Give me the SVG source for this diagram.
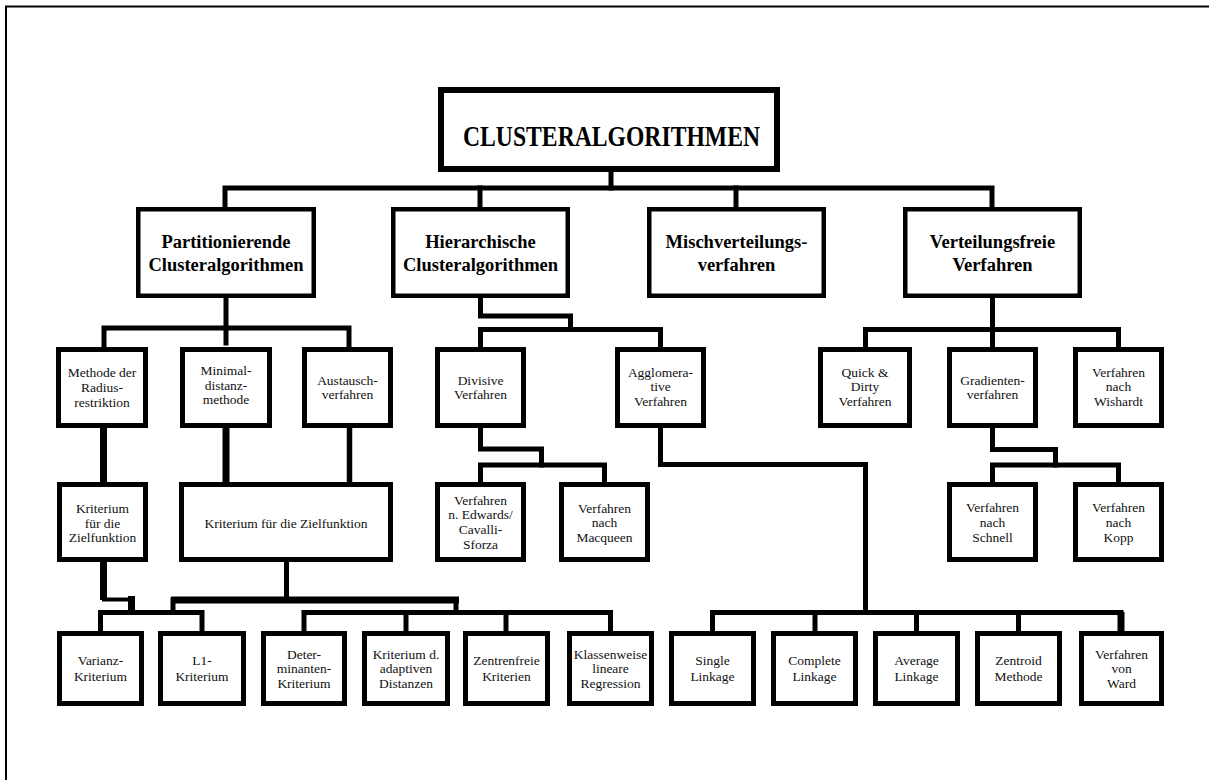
<svg xmlns="http://www.w3.org/2000/svg" width="1209" height="780" viewBox="0 0 1209 780">
<style>
.bg{fill:#fff}
.frame{fill:none;stroke:#000;stroke-width:2}
.b0{fill:#fff;stroke:#000;stroke-width:6}
.b1{fill:#fff;stroke:#000;stroke-width:4.5}
.b2{fill:#fff;stroke:#000;stroke-width:5}
.c{fill:none;stroke:#000;stroke-width:5;stroke-linejoin:miter;stroke-linecap:square}
.cw{fill:none;stroke:#000;stroke-width:7;stroke-linejoin:miter;stroke-linecap:butt}
.t0{font-family:"Liberation Serif","Times New Roman",serif;font-weight:bold;font-size:29px;text-anchor:middle;fill:#000}
.t1{font-family:"Liberation Serif","Times New Roman",serif;font-weight:bold;font-size:18.5px;text-anchor:middle;fill:#000}
.t2{font-family:"Liberation Serif","Times New Roman",serif;font-size:13.5px;text-anchor:middle;fill:#111}
</style>
<rect class="bg" x="0" y="0" width="1209" height="780"/>
<path class="frame" d="M1209,6.5 H6 V780"/>

<g id="connectors">
  <path class="c" d="M611,172 V188"/>
  <path class="c" d="M225,207 V188 H992 V207"/>
  <path class="c" d="M480,188 V207"/>
  <path class="c" d="M736,188 V207"/>
  <path class="c" d="M226,298 V328"/>
  <path class="c" d="M104,346 V328 H349 V346"/>
  <path class="c" d="M226,328 V343"/>
  <path class="cw" d="M103.5,428 V482"/>
  <path class="cw" d="M226,428 V482"/>
  <path class="c" d="M349.5,428 V480" style="stroke-width:5.5"/>
  <path class="cw" d="M103.5,562 V600"/>
  <path class="c" d="M104,599.5 H131" style="stroke-width:4"/>
  <path class="cw" d="M131.5,596 V612"/>
  <path class="c" d="M100.5,630 V612.5 H202 V630"/>
  <path class="c" d="M286.5,562 V600"/>
  <path class="cw" d="M171,600 H459"/>
  <path class="c" d="M173,600 V612"/>
  <path class="c" d="M456,600 V612"/>
  <path class="c" d="M304,630 V612.5 H610.5 V630"/>
  <path class="c" d="M406,612.5 V630"/>
  <path class="c" d="M506,612.5 V630"/>
  <path class="c" d="M480.5,298 V316 H570.5 V329"/>
  <path class="c" d="M480.5,346 V329.5 H660.5 V346"/>
  <path class="c" d="M480.5,427 V449 H541.5 V465"/>
  <path class="c" d="M480.5,481 V465 H604.5 V481"/>
  <path class="c" d="M660.5,427 V464.5 H865.5 V612.5"/>
  <path class="c" d="M712.5,630 V612.5 H1121 V620"/>
  <path class="cw" d="M1121,612 V631"/>
  <path class="c" d="M815,612.5 V630"/>
  <path class="c" d="M916.5,612.5 V630"/>
  <path class="c" d="M1018.5,612.5 V630"/>
  <path class="c" d="M992.5,298 V329"/>
  <path class="c" d="M865.5,346 V329.5 H1118.5 V346"/>
  <path class="c" d="M992.5,329 V346"/>
  <path class="c" d="M992.5,427 V449.5 H1055.5 V465"/>
  <path class="c" d="M992.5,481 V465 H1118.5 V481"/>
</g>

<g id="n-root"><rect class="b0" x="441" y="90" width="336" height="79"/><text class="t0" x="611.5" y="146" textLength="297" lengthAdjust="spacingAndGlyphs">CLUSTERALGORITHMEN</text></g>

<g id="n-part"><rect class="b1" x="138.25" y="209.25" width="175.5" height="86.5"/><text class="t1" x="226" y="248">Partitionierende</text><text class="t1" x="226" y="271">Clusteralgorithmen</text></g>
<g id="n-hier"><rect class="b1" x="393.25" y="209.25" width="174.5" height="86.5"/><text class="t1" x="480.5" y="248">Hierarchische</text><text class="t1" x="480.5" y="271">Clusteralgorithmen</text></g>
<g id="n-misch"><rect class="b1" x="649.25" y="209.25" width="174.5" height="86.5"/><text class="t1" x="736.5" y="248">Mischverteilungs-</text><text class="t1" x="736.5" y="271">verfahren</text></g>
<g id="n-vfrei"><rect class="b1" x="905.25" y="209.25" width="174.5" height="86.5"/><text class="t1" x="992.5" y="248">Verteilungsfreie</text><text class="t1" x="992.5" y="271">Verfahren</text></g>

<g id="n-radius"><rect class="b2" x="58.5" y="349.5" width="87" height="76"/><text class="t2" x="102" y="377">Methode der</text><text class="t2" x="102" y="392">Radius-</text><text class="t2" x="102" y="407">restriktion</text></g>
<g id="n-minimal"><rect class="b2" x="182.5" y="349.5" width="87" height="76"/><text class="t2" x="226" y="375">Minimal-</text><text class="t2" x="226" y="389.5">distanz-</text><text class="t2" x="226" y="404">methode</text></g>
<g id="n-austausch"><rect class="b2" x="304.5" y="349.5" width="86" height="76"/><text class="t2" x="347.5" y="385">Austausch-</text><text class="t2" x="347.5" y="399">verfahren</text></g>
<g id="n-divisiv"><rect class="b2" x="437.5" y="349.5" width="86" height="76"/><text class="t2" x="480.5" y="385">Divisive</text><text class="t2" x="480.5" y="399">Verfahren</text></g>
<g id="n-agglo"><rect class="b2" x="617.5" y="349.5" width="86" height="76"/><text class="t2" x="660.5" y="377">Agglomera-</text><text class="t2" x="660.5" y="391">tive</text><text class="t2" x="660.5" y="406">Verfahren</text></g>
<g id="n-quick"><rect class="b2" x="820.5" y="349.5" width="89" height="76"/><text class="t2" x="865" y="377">Quick &amp;</text><text class="t2" x="865" y="391">Dirty</text><text class="t2" x="865" y="406">Verfahren</text></g>
<g id="n-gradient"><rect class="b2" x="949.5" y="349.5" width="86" height="76"/><text class="t2" x="992.5" y="385">Gradienten-</text><text class="t2" x="992.5" y="399">verfahren</text></g>
<g id="n-wishardt"><rect class="b2" x="1075.5" y="349.5" width="86" height="76"/><text class="t2" x="1118.5" y="377">Verfahren</text><text class="t2" x="1118.5" y="391">nach</text><text class="t2" x="1118.5" y="406">Wishardt</text></g>

<g id="n-krit1"><rect class="b2" x="59.5" y="484.5" width="86" height="75"/><text class="t2" x="102.5" y="513">Kriterium</text><text class="t2" x="102.5" y="528">für die</text><text class="t2" x="102.5" y="542">Zielfunktion</text></g>
<g id="n-krit2"><rect class="b2" x="181.5" y="484.5" width="209" height="75"/><text class="t2" x="286" y="528">Kriterium für die Zielfunktion</text></g>
<g id="n-edwards"><rect class="b2" x="437.5" y="484.5" width="86" height="75"/><text class="t2" x="480.5" y="505">Verfahren</text><text class="t2" x="480.5" y="519">n. Edwards/</text><text class="t2" x="480.5" y="534">Cavalli-</text><text class="t2" x="480.5" y="549">Sforza</text></g>
<g id="n-macqueen"><rect class="b2" x="561.5" y="484.5" width="86" height="75"/><text class="t2" x="604.5" y="513">Verfahren</text><text class="t2" x="604.5" y="527">nach</text><text class="t2" x="604.5" y="542">Macqueen</text></g>
<g id="n-schnell"><rect class="b2" x="949.5" y="484.5" width="86" height="75"/><text class="t2" x="992.5" y="512">Verfahren</text><text class="t2" x="992.5" y="527">nach</text><text class="t2" x="992.5" y="542">Schnell</text></g>
<g id="n-kopp"><rect class="b2" x="1075.5" y="484.5" width="86" height="75"/><text class="t2" x="1118.5" y="512">Verfahren</text><text class="t2" x="1118.5" y="527">nach</text><text class="t2" x="1118.5" y="542">Kopp</text></g>

<g id="n-varianz"><rect class="b2" x="59.5" y="633.5" width="82" height="70"/><text class="t2" x="100.5" y="665">Varianz-</text><text class="t2" x="100.5" y="681">Kriterium</text></g>
<g id="n-l1"><rect class="b2" x="160.5" y="633.5" width="83" height="70"/><text class="t2" x="202" y="665">L1-</text><text class="t2" x="202" y="681">Kriterium</text></g>
<g id="n-deter"><rect class="b2" x="263.5" y="633.5" width="81" height="70"/><text class="t2" x="304" y="659">Deter-</text><text class="t2" x="304" y="673">minanten-</text><text class="t2" x="304" y="688">Kriterium</text></g>
<g id="n-adaptiv"><rect class="b2" x="364.5" y="633.5" width="83" height="70"/><text class="t2" x="406" y="659">Kriterium d.</text><text class="t2" x="406" y="673">adaptiven</text><text class="t2" x="406" y="688">Distanzen</text></g>
<g id="n-zentrenfrei"><rect class="b2" x="465.5" y="633.5" width="82" height="70"/><text class="t2" x="506.5" y="665">Zentrenfreie</text><text class="t2" x="506.5" y="681">Kriterien</text></g>
<g id="n-regression"><rect class="b2" x="569.5" y="633.5" width="82" height="70"/><text class="t2" x="610.5" y="659">Klassenweise</text><text class="t2" x="610.5" y="673">lineare</text><text class="t2" x="610.5" y="688">Regression</text></g>
<g id="n-single"><rect class="b2" x="671.5" y="633.5" width="82" height="70"/><text class="t2" x="712.5" y="665">Single</text><text class="t2" x="712.5" y="681">Linkage</text></g>
<g id="n-complete"><rect class="b2" x="773.5" y="633.5" width="82" height="70"/><text class="t2" x="814.5" y="665">Complete</text><text class="t2" x="814.5" y="681">Linkage</text></g>
<g id="n-average"><rect class="b2" x="875.5" y="633.5" width="82" height="70"/><text class="t2" x="916.5" y="665">Average</text><text class="t2" x="916.5" y="681">Linkage</text></g>
<g id="n-zentroid"><rect class="b2" x="977.5" y="633.5" width="82" height="70"/><text class="t2" x="1018.5" y="665">Zentroid</text><text class="t2" x="1018.5" y="681">Methode</text></g>
<g id="n-ward"><rect class="b2" x="1081.5" y="633.5" width="80" height="70"/><text class="t2" x="1121.5" y="659">Verfahren</text><text class="t2" x="1121.5" y="673">von</text><text class="t2" x="1121.5" y="688">Ward</text></g>
</svg>
